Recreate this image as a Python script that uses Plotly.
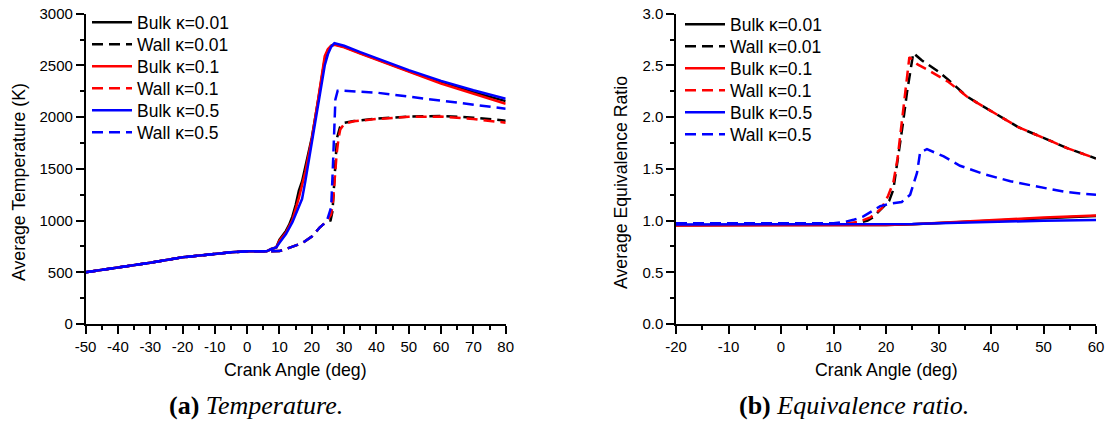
import plotly.graph_objects as go

# ---------------- (a) Temperature ----------------
ca_early = [-50, -40, -30, -20, -10, -5, 0, 5, 6, 7.5, 9]
T_early = [500, 544, 593, 645, 680, 693, 703, 703, 703, 725, 740]

bulk001_ca = ca_early + [10, 12, 13, 14, 15, 16, 17, 18, 19, 20, 22, 24, 25, 26, 27, 30, 35, 40, 50, 60, 70, 80]
bulk001_T = T_early + [815, 900, 960, 1040, 1150, 1290, 1380, 1520, 1660, 1800, 2170, 2560, 2650, 2690, 2705, 2680, 2620, 2560, 2445, 2335, 2240, 2155]

bulk01_ca = ca_early + [10, 12, 14, 16, 18, 20, 22, 24, 25, 26, 27, 30, 35, 40, 50, 60, 70, 80]
bulk01_T = T_early + [805, 885, 1005, 1220, 1470, 1790, 2180, 2590, 2660, 2690, 2700, 2675, 2615, 2555, 2440, 2325, 2225, 2130]

bulk05_ca = ca_early + [10, 12, 14, 16, 17, 18, 20, 22, 24, 25, 26, 27, 30, 35, 40, 50, 60, 70, 80]
bulk05_T = T_early + [785, 870, 985, 1140, 1210, 1380, 1750, 2120, 2500, 2610, 2680, 2715, 2690, 2628, 2568, 2455, 2350, 2260, 2178]

wall_ca_early = [-50, -40, -30, -20, -10, -5, 0, 5, 7, 9, 10, 12, 15, 17, 20, 22.5, 24.6]
wall_T_early = [500, 544, 593, 645, 680, 693, 703, 703, 700, 700, 705, 725, 755, 782, 845, 935, 992]

wall001_ca = wall_ca_early + [25.8, 26.4, 26.8, 27.2, 27.8, 28.7, 30, 33, 40, 50, 60, 70, 80]
wall001_T = wall_T_early + [1000, 1090, 1300, 1600, 1800, 1900, 1945, 1962, 1985, 2005, 2012, 1995, 1966]

wall01_ca = wall_ca_early + [26.0, 26.6, 27.2, 27.7, 28.3, 28.8, 30, 33, 40, 50, 60, 70, 80]
wall01_T = wall_T_early + [1060, 1200, 1450, 1650, 1800, 1880, 1935, 1960, 1982, 2003, 2005, 1982, 1946]

wall05_ca = wall_ca_early + [26.0, 26.5, 27.0, 27.3, 28.0, 30, 40, 50, 60, 70, 80]
wall05_T = wall_T_early + [1130, 1500, 1950, 2170, 2256, 2255, 2237, 2198, 2156, 2117, 2082]

temp_xticks = [-50, -40, -30, -20, -10, 0, 10, 20, 30, 40, 50, 60, 70, 80]
temp_xticklabels = ["-50", "-40", "-30", "-20", "-10", "0", "10", "20", "30", "40", "50", "60", "70", "80"]

# ---------------- (b) Equivalence ratio ----------------
phi_bulk_ca = [-20, 0, 10, 20, 25, 30, 40, 50, 60]
phi_bulk001 = [0.955, 0.955, 0.955, 0.958, 0.965, 0.976, 1.002, 1.026, 1.044]
phi_bulk01 = [0.953, 0.953, 0.953, 0.956, 0.964, 0.977, 1.004, 1.029, 1.048]
phi_bulk05 = [0.962, 0.962, 0.962, 0.963, 0.967, 0.975, 0.989, 0.998, 1.005]

phi_wall001_ca = [-20, 0, 10, 12, 14, 15, 16.5, 17.5, 19.5, 20.6, 21.4, 22.3, 23.2, 24.0, 24.7, 25.2,
                  26.8, 30, 31.9, 33.5, 35.4, 37.3, 40.2, 42.7, 45.3, 50, 54.5, 58.9, 60]
phi_wall001 = [0.972, 0.972, 0.972, 0.972, 0.975, 0.98, 1.0, 1.03, 1.13, 1.19, 1.3, 1.6, 1.93, 2.24, 2.48, 2.62,
               2.55, 2.44, 2.36, 2.29, 2.2, 2.14, 2.05, 1.98, 1.90, 1.80, 1.70, 1.62, 1.60]

phi_wall01_ca = [-20, 0, 10, 13, 15, 17, 18, 19.2, 20.4, 21.4, 22.2, 23.0, 23.6, 24.1, 24.45,
                 26, 28.2, 31.9, 33.5, 35.4, 37.3, 40.2, 42.7, 45.3, 50, 54.5, 58.9, 60]
phi_wall01 = [0.972, 0.972, 0.972, 0.975, 0.99, 1.03, 1.07, 1.12, 1.24, 1.37, 1.6, 1.93, 2.2, 2.4, 2.58,
              2.51, 2.45, 2.34, 2.28, 2.2, 2.14, 2.05, 1.98, 1.90, 1.80, 1.70, 1.62, 1.60]

phi_wall05_ca = [-20, 0, 10, 12, 14, 15.7, 17, 18.9, 21, 23, 24.6, 25.9, 26.5, 27.8, 31, 34.1, 38.6, 43.7, 50.7, 53.8, 58, 60]
phi_wall05 = [0.975, 0.975, 0.975, 0.985, 1.01, 1.04, 1.08, 1.14, 1.165, 1.18, 1.25, 1.46, 1.66, 1.69, 1.62, 1.53, 1.45, 1.38, 1.31, 1.28, 1.257, 1.25]

phi_xticks = [-20, -10, 0, 10, 20, 30, 40, 50, 60]
phi_xticklabels = ["-20", "-10", "0", "10", "20", "30", "40", "50", "60"]

names = ["Bulk κ=0.01", "Wall κ=0.01", "Bulk κ=0.1", "Wall κ=0.1", "Bulk κ=0.5", "Wall κ=0.5"]
colors = ["#000000", "#000000", "#FF0000", "#FF0000", "#0000FF", "#0000FF"]
dashes = ["solid", "11px,6px", "solid", "11px,6px", "solid", "11px,6px"]

left_series = [(bulk001_ca, bulk001_T), (wall001_ca, wall001_T), (bulk01_ca, bulk01_T),
               (wall01_ca, wall01_T), (bulk05_ca, bulk05_T), (wall05_ca, wall05_T)]
right_series = [(phi_bulk_ca, phi_bulk001), (phi_wall001_ca, phi_wall001), (phi_bulk_ca, phi_bulk01),
                (phi_wall01_ca, phi_wall01), (phi_bulk_ca, phi_bulk05), (phi_wall05_ca, phi_wall05)]

W, H = 1110, 423
SANS = "Liberation Sans, Arial, sans-serif"
SERIF = "Liberation Serif, Times New Roman, serif"


def legend_key(k):
    return "legend" if k == 1 else f"legend{k}"


fig = go.Figure()
for i, (xs, ys) in enumerate(left_series):
    fig.add_trace(go.Scatter(x=xs, y=ys, mode="lines", name=names[i],
                             line=dict(color=colors[i], width=2.5, dash=dashes[i]),
                             xaxis="x", yaxis="y", legend=legend_key(i + 1)))
for i, (xs, ys) in enumerate(right_series):
    fig.add_trace(go.Scatter(x=xs, y=ys, mode="lines", name=names[i],
                             line=dict(color=colors[i], width=2.5, dash=dashes[i]),
                             xaxis="x2", yaxis="y2", legend=legend_key(i + 7)))

ydom = [(H - 324) / H, (H - 13.7) / H]


def axis_common():
    return dict(showline=True, linecolor="black", linewidth=1.5, ticks="outside", ticklen=8,
                tickwidth=1.5, tickcolor="black", showgrid=False, zeroline=False, automargin=False,
                tickfont=dict(family=SANS, size=15, color="black"))


def minor(vals):
    return dict(tickmode="array", tickvals=vals, ticklen=4, tickwidth=1.5, tickcolor="black",
                ticks="outside", showgrid=False)


layout = dict(
    template="none",
    width=W, height=H,
    margin=dict(l=0, r=0, t=0, b=0, autoexpand=False),
    paper_bgcolor="white", plot_bgcolor="white",
    font=dict(family=SANS, color="black"),
    showlegend=True,
    xaxis=dict(domain=[85.6 / W, 505.7 / W], range=[-50, 80], tickmode="array",
               tickvals=temp_xticks, ticktext=temp_xticklabels, anchor="y",
               minor=minor([v + 5 for v in temp_xticks[:-1]]), **axis_common()),
    yaxis=dict(domain=ydom, range=[0, 3000], dtick=500, tick0=0, anchor="x",
               minor=dict(dtick=250, tick0=0, ticklen=4, tickwidth=1.5, tickcolor="black",
                          ticks="outside", showgrid=False), **axis_common()),
    xaxis2=dict(domain=[676 / W, 1096 / W], range=[-20, 60], tickmode="array",
                tickvals=phi_xticks, ticktext=phi_xticklabels, anchor="y2",
                minor=minor([v + 5 for v in phi_xticks[:-1]]), **axis_common()),
    yaxis2=dict(domain=ydom, range=[0, 3], dtick=0.5, tick0=0, tickformat=".1f", anchor="x2",
                minor=dict(dtick=0.25, tick0=0, ticklen=4, tickwidth=1.5, tickcolor="black",
                           ticks="outside", showgrid=False), **axis_common()),
)

# one legend box per entry so that row spacing matches the reference
for k in range(12):
    side = 0 if k < 6 else 1
    row = k % 6
    x0 = 87 if side == 0 else 680
    yc = (22.3 if side == 0 else 24.3) + 22 * row
    layout[legend_key(k + 1)] = dict(
        x=x0 / W, y=(H - yc) / H, xanchor="left", yanchor="middle",
        bgcolor="rgba(0,0,0,0)", borderwidth=0, itemwidth=40,
        font=dict(family=SANS, size=17.5, color="black"))

fig.update_layout(**layout)

ann_font = dict(family=SANS, size=17.7, color="black")
annotations = [
    dict(text="Crank Angle (deg)", x=295.6 / W, y=(H - 370) / H, xref="paper", yref="paper",
         showarrow=False, xanchor="center", yanchor="middle", font=ann_font),
    dict(text="Crank Angle (deg)", x=886 / W, y=(H - 370) / H, xref="paper", yref="paper",
         showarrow=False, xanchor="center", yanchor="middle", font=ann_font),
    dict(text="Average Temperature (K)", x=19 / W, y=(H - 182) / H, xref="paper", yref="paper",
         showarrow=False, xanchor="center", yanchor="middle", textangle=-90, font=ann_font),
    dict(text="Average Equivalence Ratio", x=621 / W, y=(H - 182) / H, xref="paper", yref="paper",
         showarrow=False, xanchor="center", yanchor="middle", textangle=-90, font=ann_font),
    dict(text="<b>(a)</b> <i>Temperature.</i>", x=256 / W, y=(H - 405) / H, xref="paper", yref="paper",
         showarrow=False, xanchor="center", yanchor="middle", font=dict(family=SERIF, size=26, color="black")),
    dict(text="<b>(b)</b> <i>Equivalence ratio.</i>", x=854 / W, y=(H - 405) / H, xref="paper", yref="paper",
         showarrow=False, xanchor="center", yanchor="middle", font=dict(family=SERIF, size=26, color="black")),
]
fig.update_layout(annotations=annotations)

fig.write_html("out.html")
